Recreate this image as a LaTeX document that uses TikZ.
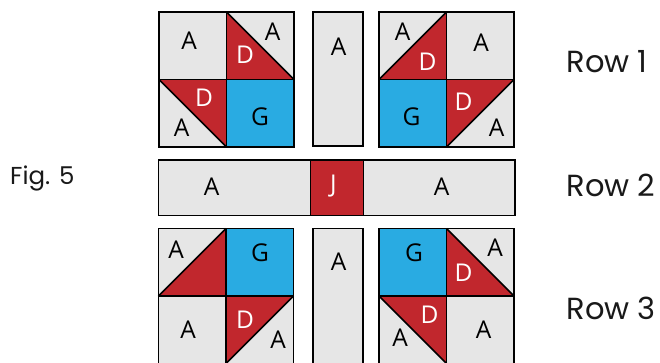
\documentclass[tikz,border=0pt]{standalone}
\usepackage{fontspec}
\newfontfamily\cellfont{Open Sans}
\newfontfamily\rowfont{Poppins}
\definecolor{qgray}{HTML}{E6E6E6}
\definecolor{qred}{HTML}{C1272D}
\definecolor{qblue}{HTML}{29ABE2}
\tikzset{
  edge/.style={draw=black,line width=1.7pt,line join=miter},
  lbl/.style={inner sep=0pt,font=\cellfont\fontsize{24.5}{24.5}\selectfont},
  lblw/.style={lbl,text=white},
  rowlbl/.style={inner sep=0pt,anchor=west,font=\rowfont\fontsize{30.5}{30.5}\selectfont,text=black!90},
}
\newcommand\qblock[2]{%
  \draw[edge] (#1,#2) rectangle ++(135,135);
  \draw[edge] (#1+67.5,#2) -- ++(0,135);
  \draw[edge] (#1,#2+67.5) -- ++(135,0);}
\begin{document}
\begin{tikzpicture}[x=1pt,y=-1pt]
\useasboundingbox (0,0) rectangle (660,362);
\fill[white] (0,0) rectangle (660,362);
\begin{scope}
\clip (0,0) rectangle (660,362);
% ---------- Row 1, block 1 (159,12)
\fill[qgray] (159,12) rectangle ++(135,135);
\fill[qred] (226.5,12) -- (226.5,79.5) -- (294,79.5) -- cycle;
\fill[qred] (159,79.5) -- (226.5,79.5) -- (226.5,147) -- cycle;
\fill[qblue] (226.5,79.5) rectangle (294,147);
\draw[edge] (226.5,12) -- (294,79.5);
\draw[edge] (159,79.5) -- (226.5,147);
\qblock{159}{12}
% strip
\fill[qgray] (313,12) rectangle (363,146);
\draw[edge] (313,12) rectangle (363,146);
% ---------- Row 1, block 2 (379,12)
\fill[qgray] (379,12) rectangle ++(135,135);
\fill[qred] (379,79.5) -- (446.5,12) -- (446.5,79.5) -- cycle;
\fill[qred] (446.5,79.5) -- (514,79.5) -- (446.5,147) -- cycle;
\fill[qblue] (379,79.5) rectangle (446.5,147);
\draw[edge] (379,79.5) -- (446.5,12);
\draw[edge] (514,79.5) -- (446.5,147);
\qblock{379}{12}
% ---------- Row 2
\fill[qgray] (158.5,160) rectangle (515,215.5);
\fill[qred] (310.5,160) rectangle (363.5,215.5);
\draw[edge] (158.5,160) rectangle (515,215.5);
\draw[edge] (310.5,160) -- (310.5,215.5);
\draw[edge] (363.5,160) -- (363.5,215.5);
% ---------- Row 3, block 3 (158.5,228.5)
\fill[qgray] (158.5,228.5) rectangle ++(135,135);
\fill[qred] (158.5,296) -- (226,228.5) -- (226,296) -- cycle;
\fill[qblue] (226,228.5) rectangle (293.5,296);
\fill[qred] (226,296) -- (293.5,296) -- (226,363.5) -- cycle;
\draw[edge] (158.5,296) -- (226,228.5);
\draw[edge] (293.5,296) -- (226,363.5);
\qblock{158.5}{228.5}
% strip
\fill[qgray] (313,228.5) rectangle (363,364);
\draw[edge] (313,228.5) rectangle (363,364);
% ---------- Row 3, block 4 (379,228.5)
\fill[qgray] (379,228.5) rectangle ++(135,135);
\fill[qblue] (379,228.5) rectangle (446.5,296);
\fill[qred] (446.5,228.5) -- (446.5,296) -- (514,296) -- cycle;
\fill[qred] (379,296) -- (446.5,296) -- (446.5,363.5) -- cycle;
\draw[edge] (446.5,228.5) -- (514,296);
\draw[edge] (379,296) -- (446.5,363.5);
\qblock{379}{228.5}
\end{scope}
% ---------- labels block 1
\node[lbl]  (b1a1) at (189,41) {A};
\node[lbl]  (b1a2) at (272.5,31.5) {A};
\node[lblw] (b1d1) at (245,55) {D};
\node[lblw] (b1d2) at (204,98) {D};
\node[lbl]  (b1a3) at (181.5,128) {A};
\node[lbl]  (b1g)  at (260,117) {G};
\node[lbl]  (s1a)  at (338.5,47) {A};
% ---------- labels block 2
\node[lbl]  (b2a1) at (402.5,31.5) {A};
\node[lblw] (b2d1) at (427.5,61.5) {D};
\node[lbl]  (b2a2) at (481,43) {A};
\node[lbl]  (b2g)  at (411.5,116.5) {G};
\node[lblw] (b2d2) at (463.5,101.5) {D};
\node[lbl]  (b2a3) at (496.5,128) {A};
% ---------- labels row 2
\node[lbl]  (r2a1) at (211.5,186.5) {A};
\node[lblw] (r2j)  at (333.5,186.5) {J};
\node[lbl]  (r2a2) at (441.5,186.5) {A};
% ---------- labels block 3
\node[lbl]  (b3a1) at (176,250) {A};
\node[lbl]  (b3g)  at (260,253) {G};
\node[lbl]  (b3a2) at (188,330) {A};
\node[lblw] (b3d)  at (245,320) {D};
\node[lbl]  (b3a3) at (278,340) {A};
\node[lbl]  (s2a)  at (338.5,262) {A};
% ---------- labels block 4
\node[lbl]  (b4g)  at (414,253) {G};
\node[lbl]  (b4a1) at (495,248) {A};
\node[lblw] (b4d1) at (463.5,273) {D};
\node[lblw] (b4d2) at (429.5,315) {D};
\node[lbl]  (b4a2) at (400,338) {A};
\node[lbl]  (b4a3) at (483.5,330) {A};
% ---------- side labels
\node[rowlbl,font=\rowfont\fontsize{24.5}{24.5}\selectfont] (fig) at (10,178) {Fig. 5};
\node[rowlbl] (row1) at (566.5,62) {Row 1};
\node[rowlbl] (row2) at (566.5,185) {Row 2};
\node[rowlbl] (row3) at (566.5,308) {Row 3};
\end{tikzpicture}
\end{document}
